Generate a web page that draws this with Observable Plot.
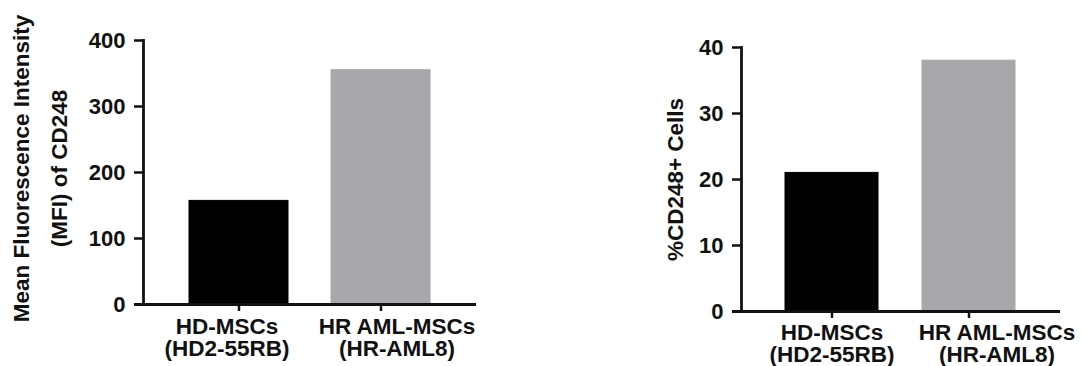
<!DOCTYPE html>
<html>
<head>
<meta charset="utf-8">
<script src="https://cdn.jsdelivr.net/npm/d3@7"></script>
<script src="https://cdn.jsdelivr.net/npm/@observablehq/plot@0.6"></script>
<style>
  html, body { margin: 0; padding: 0; background: #fff; }
  #wrap { position: relative; width: 1084px; height: 366px; overflow: hidden; }
  #left, #right { position: absolute; top: 0; }
  #left { left: 0; }
  #right { left: 544px; }
  svg { font-weight: bold; }
</style>
</head>
<body>
<div id="wrap"><div id="left"></div><div id="right"></div></div>
<script>
const categories = ["HD-MSCs\n(HD2-55RB)", "HR AML-MSCs\n(HR-AML8)"];
const mfiValues = [157, 355];
const pctValues = [21, 38];
const mfiTicks = [0, 100, 200, 300, 400];
const pctTicks = [0, 10, 20, 30, 40];
const barColors = ["#000000", "#a8a8ac"];
const mfiTitle = ["Mean Fluorescence Intensity", "(MFI) of CD248"];
const pctTitle = ["%CD248+ Cells"];

const ink = "#111";

function makeChart(opts) {
  const data = categories.map((c, i) => ({cat: c, v: opts.values[i]}));
  return Plot.plot({
    width: opts.width,
    height: 366,
    marginLeft: opts.marginLeft,
    marginRight: opts.marginRight,
    marginTop: opts.marginTop,
    marginBottom: opts.marginBottom,
    style: {fontFamily: "'Liberation Sans', Arial, sans-serif", fontSize: "22px", fontWeight: "bold", color: ink, background: "white"},
    x: {domain: categories, paddingInner: opts.padIn, paddingOuter: opts.padOut, axis: null},
    y: {domain: opts.domain, axis: null},
    color: {domain: categories, range: barColors},
    marks: [
      Plot.barY(data, {x: "cat", y: "v", fill: "cat", stroke: "cat", strokeWidth: 1}),
      Plot.axisY({ticks: opts.ticks, tickSize: 9, tickPadding: 9, strokeWidth: 2.5, stroke: ink, fill: ink, fontSize: 22, label: null}),
      Plot.frame({anchor: "left", stroke: ink, strokeWidth: 2.8}),
      Plot.ruleY([0], {stroke: ink, strokeWidth: 2.8, insetLeft: -9}),
      Plot.axisX({tickSize: 7, tickFormat: () => "", strokeWidth: 2.5, stroke: ink, label: null}),
      Plot.text([categories[0]], {x: d => d, text: d => d, frameAnchor: "bottom", lineAnchor: "top", dy: opts.labelDy, dx: opts.dx0, fontSize: 22.5, lineHeight: opts.lh, fill: ink}),
      Plot.text([categories[1]], {x: d => d, text: d => d, frameAnchor: "bottom", lineAnchor: "top", dy: opts.labelDy, dx: opts.dx1, fontSize: 22.5, lineHeight: opts.lh, fill: ink}),
      ...opts.titles.map((t, i) => Plot.text([t], {text: d => d, frameAnchor: "left", textAnchor: "middle", rotate: -90, lineAnchor: "middle", dx: opts.titleDx[i], dy: opts.titleDy, fontSize: 22.5, fill: ink}))
    ]
  });
}

document.getElementById("left").append(makeChart({
  width: 540, marginLeft: 143, marginRight: 64, marginTop: 40, marginBottom: 62,
  padIn: 0.3, padOut: 0.315, values: mfiValues, domain: [0, 400], ticks: mfiTicks,
  labelDy: 14, lh: 0.97, dx0: -12, dx1: 16,
  titles: mfiTitle, titleDx: [-122, -84], titleDy: -4
}));

document.getElementById("right").append(makeChart({
  width: 540, marginLeft: 197, marginRight: 24, marginTop: 47, marginBottom: 55,
  padIn: 0.32, padOut: 0.32, values: pctValues, domain: [0, 40], ticks: pctTicks,
  labelDy: 13, lh: 0.98, dx0: 0, dx1: 28,
  titles: pctTitle, titleDx: [-66], titleDy: 0
}));
</script>
</body>
</html>
